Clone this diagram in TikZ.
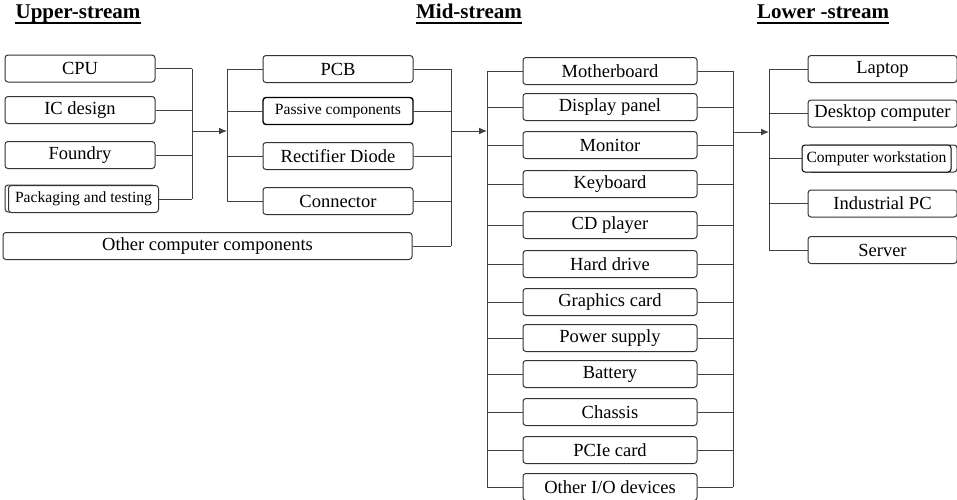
\documentclass[tikz,border=0pt]{standalone}
\usepackage{fontspec}
\setmainfont{Liberation Serif}
\usetikzlibrary{arrows.meta}

\begin{document}
\begin{tikzpicture}[x=0.5pt,y=-0.5pt,
 every node/.style={font=\fontsize{9.25}{11}\selectfont},
 part/.style={rectangle,rounded corners=1.5pt,draw=black!80,line width=0.5pt,
   minimum width=75pt,minimum height=13.5pt,inner sep=0pt,fill=white},
 wide/.style={part,minimum width=87pt},
 tiny/.style={font=\fontsize{7.8}{9}\selectfont},
 hd/.style={anchor=base,inner sep=0pt,font=\fontsize{10.5}{12}\selectfont\bfseries},
 link/.style={draw=black!75,line width=0.5pt},
 feed/.style={link,-{Latex[length=4pt,width=3.4pt]}}]
\useasboundingbox (0,0) rectangle (957,499);

% headings
\node[hd] (up) at (78,18) {Upper-stream};
\node[hd] (mid) at (469,18) {Mid-stream};
\node[hd] (low) at (823,18) {Lower -stream};
\foreach \h in {up,mid,low}
  \draw[line width=0.9pt] ([yshift=-2.3pt]\h.base west) -- ([yshift=-2.3pt]\h.base east);

% bus bars
\coordinate (bar1) at (192,0);
\coordinate (bar2) at (227,0);
\coordinate (bar3) at (451,0);
\coordinate (bar4) at (487,0);
\coordinate (bar5) at (733,0);
\coordinate (bar6) at (769,0);
\coordinate (j1) at (192,131);
\coordinate (j2) at (451,131);
\coordinate (j3) at (733,132);

% upper-stream
\node[part] (cpu) at (80,68.5) {CPU};
\node[part] (ic) at (80,110) {IC design};
\node[part] (fdy) at (80,155) {Foundry};
\node[part] (pkgb) at (80,198.5) {};
\node[part,tiny] (pkg) at (83.5,199) {Packaging and testing};
\foreach \n in {cpu,ic,fdy,pkg}
  \draw[link] (\n.east) -- (\n.east -| bar1);
\draw[link] (cpu.east -| bar1) -- (pkg.east -| bar1);
\draw[feed] (j1) -- (j1 -| bar2);

% components
\node[part] (pcb) at (338,69) {PCB};
\node[part,tiny,line width=0.7pt,draw=black] (pas) at (338,111) {Passive components};
\node[part] (rect) at (338,156) {Rectifier Diode};
\node[part] (con) at (338,201) {Connector};
\node[part,minimum width=204.5pt] (oth) at (207.5,246) {Other computer components};
\foreach \n in {pcb,pas,rect,con} {
  \draw[link] (\n.west -| bar2) -- (\n.west);
  \draw[link] (\n.east) -- (\n.east -| bar3);
}
\draw[link] (oth.east) -- (oth.east -| bar3);
\draw[link] (pcb.west -| bar2) -- (con.west -| bar2);
\draw[link] (pcb.east -| bar3) -- (oth.east -| bar3);
\draw[feed] (j2) -- (j2 -| bar4);

% mid-stream
\foreach \n/\y/\t in {mb/71/Motherboard,disp/107/Display panel,mon/145/Monitor,
  kb/184/Keyboard,cd/225/CD player,hdd/264/Hard drive,gpu/302/Graphics card,
  psu/338/Power supply,bat/374/Battery,chs/412/Chassis,pcie/450/PCIe card}
  \node[wide] (\n) at (610,\y) {\t};
\node[wide] (io) at (610,487) {Other I\slash O devices};
\foreach \n in {mb,disp,mon,kb,cd,hdd,gpu,psu,bat,chs,pcie,io} {
  \draw[link] (\n.west -| bar4) -- (\n.west);
  \draw[link] (\n.east) -- (\n.east -| bar5);
}
\draw[link] (mb.west -| bar4) -- (io.west -| bar4);
\draw[link] (mb.east -| bar5) -- (io.east -| bar5);
\draw[feed] (j3) -- (j3 -| bar6);

% lower-stream
\node[part,minimum width=74.5pt] (lap) at (882.5,69) {Laptop};
\node[part,minimum width=74.5pt] (desk) at (882.5,113.5) {Desktop computer};
\node[part,minimum width=74.5pt] (wsb) at (882.5,158.5) {};
\node[part,minimum width=74.5pt,tiny,draw=black] (ws) at (876.5,158.5) {Computer workstation};
\node[part,minimum width=74.5pt] (ipc) at (882.5,203.5) {Industrial PC};
\node[part,minimum width=74.5pt] (srv) at (882.5,250) {Server};
\foreach \n in {lap,desk,ws,ipc,srv}
  \draw[link] (\n.west -| bar6) -- (\n.west);
\draw[link] (lap.west -| bar6) -- (srv.west -| bar6);
\end{tikzpicture}
\end{document}
